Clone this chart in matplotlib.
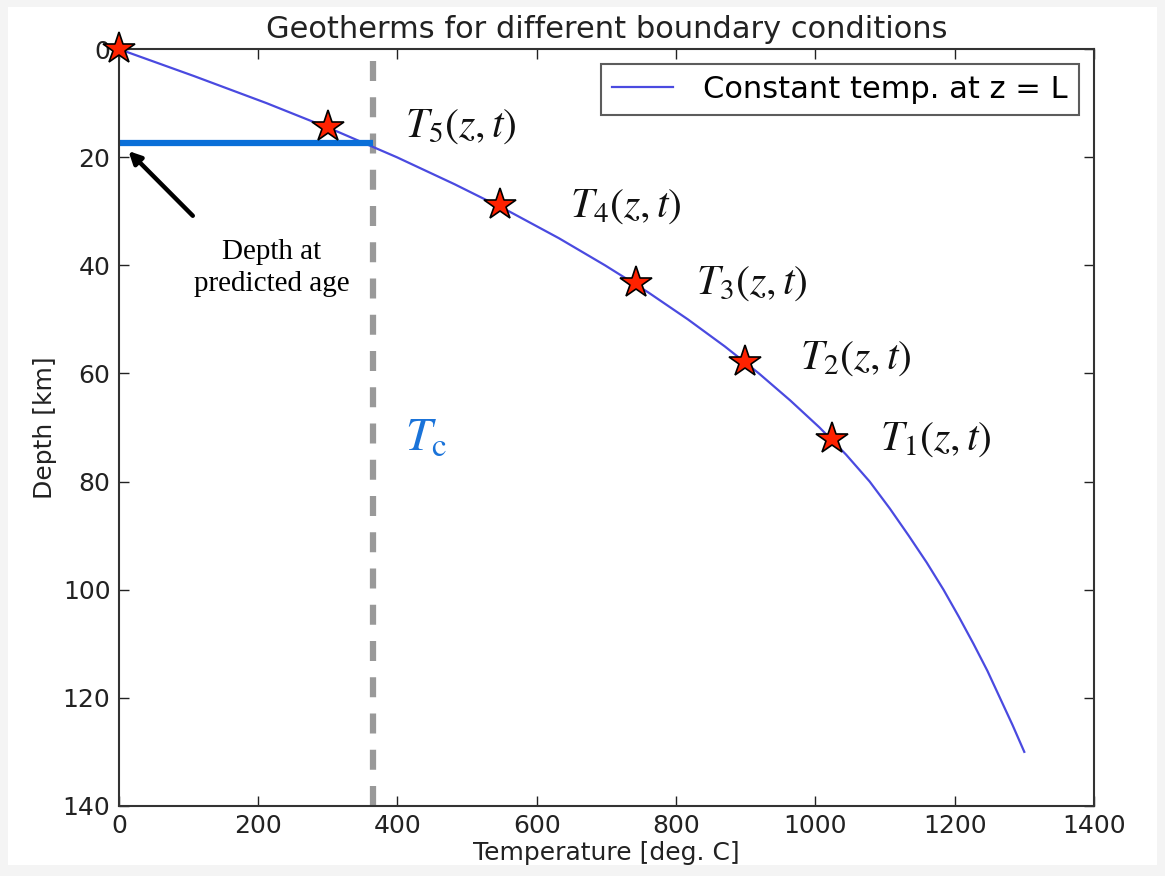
import numpy as np
import matplotlib
matplotlib.use('Agg')
import matplotlib.pyplot as plt
from matplotlib.patches import Rectangle

plt.rcParams['mathtext.fontset'] = 'stix'

# geotherm (depth in km, temperature in deg C)
depth = [0, 5, 10, 15, 20, 25, 30, 35, 40, 45, 50, 55, 60, 65, 70, 75, 80, 85, 90,
         95, 100, 105, 110, 115, 120, 125, 130]
temp = [0, 108, 212, 309, 399, 482, 560, 632, 698, 760, 817, 870, 919, 964, 1006, 1044,
        1078, 1107, 1134, 1160, 1184, 1206, 1227, 1247, 1265, 1283, 1300]

# starred points
star_depth = [0, 14.4, 28.9, 43.3, 57.8, 72.2]
star_temp = [0, 300, 547, 743, 899, 1024]
star_labels = ['', r'$T_5(z,t)$', r'$T_4(z,t)$', r'$T_3(z,t)$', r'$T_2(z,t)$', r'$T_1(z,t)$']
label_temp = [0, 411, 648, 828, 978, 1093]
label_depth = [0, 14.0, 28.8, 43.0, 57.0, 72.0]

Tc = 365
depth_age = 17.4

fig = plt.figure(figsize=(11.65, 8.76), dpi=100, facecolor='#f4f4f4')
fig.patches.append(Rectangle((0.007, 0.012), 0.986, 0.98, transform=fig.transFigure,
                             facecolor='white', edgecolor='none', zorder=-10))
ax = fig.add_axes([0.102, 0.080, 0.837, 0.864])
ax.set_facecolor('white')

ax.plot(temp, depth, color='#4a4ae0', linewidth=1.6, label='Constant temp. at z = L')
ax.plot([0, Tc], [depth_age, depth_age], color='#0a6fd8', linewidth=4.5, solid_capstyle='butt')
ax.axvline(Tc, color='#999999', linewidth=4.5, dashes=(3.2, 2.6), zorder=1)
ax.plot(star_temp, star_depth, linestyle='none', marker='*', markersize=24,
        markerfacecolor='#ff2200', markeredgecolor='black', markeredgewidth=1.2,
        clip_on=False, zorder=5)

for lx, ly, s in zip(label_temp, label_depth, star_labels):
    if s:
        ax.text(lx, ly, s, fontsize=30, ha='left', va='center', color='#111111')

ax.text(411, 72, r'$T_{\mathrm{c}}$', fontsize=34, ha='left', va='center', color='#1a73d9')

ax.annotate('', xy=(11, 18.5), xytext=(109, 31.2),
            arrowprops=dict(arrowstyle='-|>', color='black', lw=3.2, mutation_scale=18))
ax.text(219, 40.5, 'Depth at\npredicted age', fontsize=21, family='Liberation Serif',
        ha='center', va='center', linespacing=1.3)

ax.set_xlim(0, 1400)
ax.set_ylim(140, 0)
ax.set_xticks(np.arange(0, 1401, 200))
ax.set_yticks(np.arange(0, 141, 20))
ax.tick_params(direction='in', top=True, right=True, length=7, width=1, labelsize=18,
               colors='#222222', pad=6)
for sp in ax.spines.values():
    sp.set_linewidth(1.5)
    sp.set_color('#333333')

ax.set_title('Geotherms for different boundary conditions', fontsize=22, color='#222222', pad=8)
ax.set_xlabel('Temperature [deg. C]', fontsize=18, color='#222222', labelpad=2)
ax.set_ylabel('Depth [km]', fontsize=18, color='#222222')

leg = ax.legend(loc='upper right', fontsize=22, fancybox=False, handlelength=2.0,
                borderpad=0.35, handletextpad=1.0)
leg.get_frame().set_edgecolor('#333333')
leg.get_frame().set_linewidth(1.5)

fig.savefig('out.png', dpi=100, facecolor=fig.get_facecolor())
